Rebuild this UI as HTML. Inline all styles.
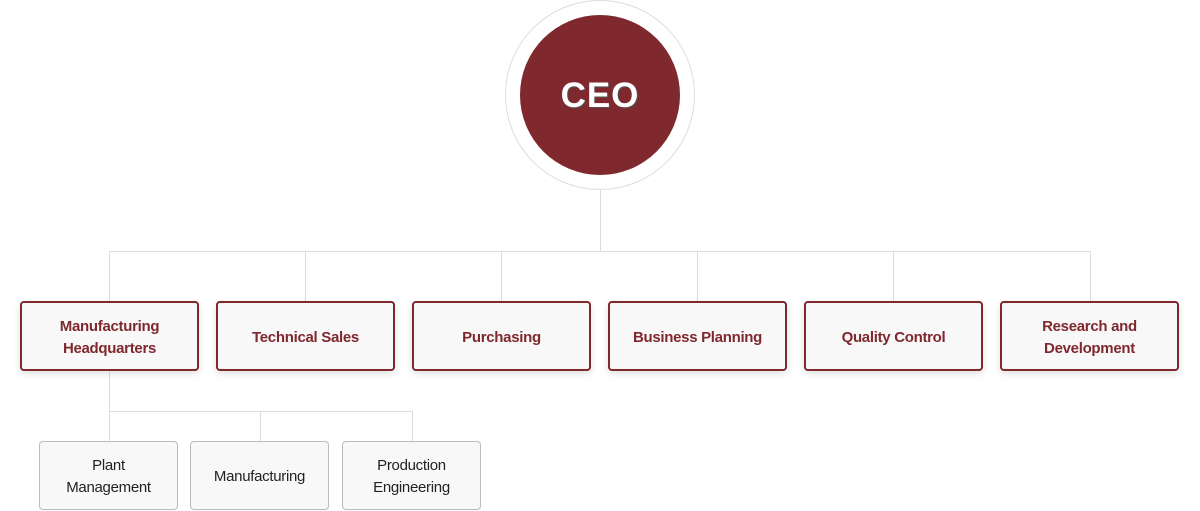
<!DOCTYPE html>
<html><head><style>
body{margin:0;width:1200px;height:511px;background:#fff;position:relative;overflow:hidden;font-family:"Liberation Sans",sans-serif}
.l{position:absolute;background:#dcdcdc}
.b{position:absolute;top:301px;width:175px;height:63px;padding-top:3px;border:2px solid #7f282d;border-radius:4px;background:#f8f8f8;box-shadow:0 3px 8px rgba(0,0,0,.12);display:flex;align-items:center;justify-content:center;text-align:center;color:#7f282d;font-weight:bold;font-size:15px;line-height:22px;letter-spacing:-0.3px}
.s{position:absolute;top:441px;width:137px;height:64px;padding-top:3px;border:1px solid #bbb;border-radius:4px;background:#f8f8f8;display:flex;align-items:center;justify-content:center;text-align:center;color:#222;font-size:15px;line-height:22px;letter-spacing:-0.3px}
</style></head><body>
<div style="position:absolute;left:505px;top:0;width:188px;height:188px;border:1px solid #ddd;border-radius:50%;background:#fff"></div>
<div style="position:absolute;left:520px;top:15px;width:160px;height:158px;padding-top:2px;border-radius:50%;background:#7f282d;display:flex;align-items:center;justify-content:center;color:#fff;font-size:35px;font-weight:bold;letter-spacing:1px;text-shadow:1px 1px 1px #555">CEO</div>
<div class="l" style="left:600px;top:190px;width:1px;height:61px"></div>
<div class="l" style="left:109px;top:251px;width:982px;height:1px"></div>
<div class="l" style="left:109px;top:251px;width:1px;height:50px"></div>
<div class="l" style="left:305px;top:251px;width:1px;height:50px"></div>
<div class="l" style="left:501px;top:251px;width:1px;height:50px"></div>
<div class="l" style="left:697px;top:251px;width:1px;height:50px"></div>
<div class="l" style="left:893px;top:251px;width:1px;height:50px"></div>
<div class="l" style="left:1090px;top:251px;width:1px;height:50px"></div>
<div class="l" style="left:109px;top:370px;width:1px;height:71px"></div>
<div class="l" style="left:109px;top:411px;width:304px;height:1px"></div>
<div class="l" style="left:260px;top:411px;width:1px;height:30px"></div>
<div class="l" style="left:412px;top:411px;width:1px;height:30px"></div>
<div class="b" style="left:20px">Manufacturing<br>Headquarters</div>
<div class="b" style="left:216px">Technical Sales</div>
<div class="b" style="left:412px">Purchasing</div>
<div class="b" style="left:608px">Business Planning</div>
<div class="b" style="left:804px">Quality Control</div>
<div class="b" style="left:1000px">Research and<br>Development</div>
<div class="s" style="left:39px">Plant<br>Management</div>
<div class="s" style="left:190px">Manufacturing</div>
<div class="s" style="left:342px">Production<br>Engineering</div>
</body></html>
